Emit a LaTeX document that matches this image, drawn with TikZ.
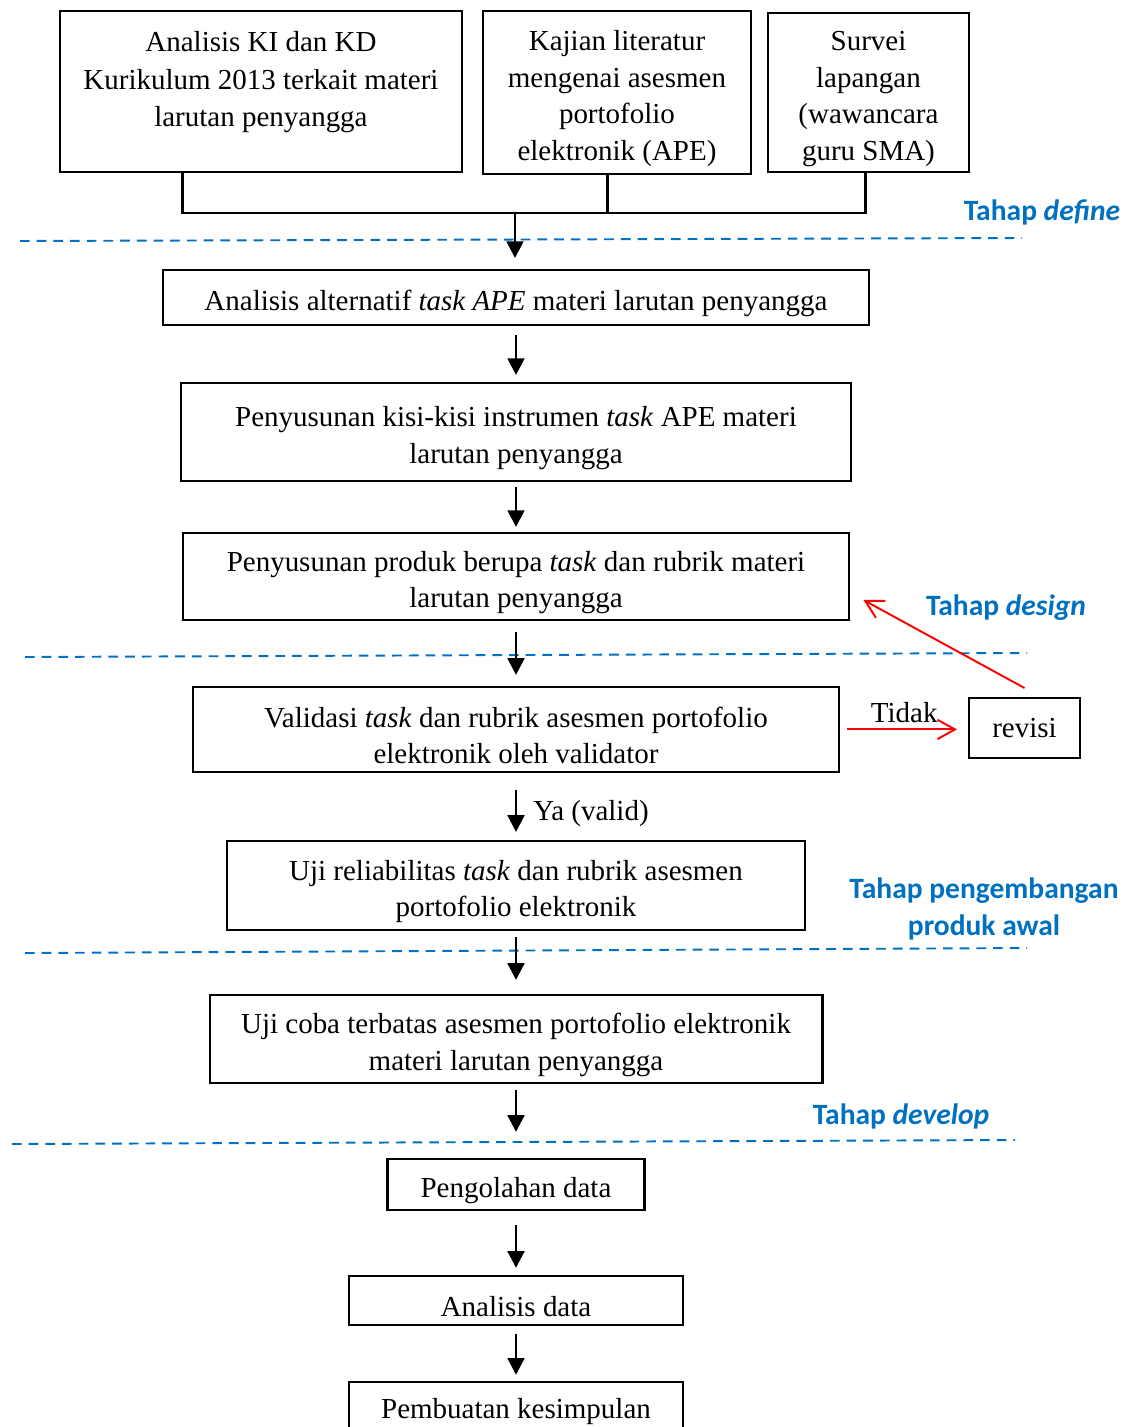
\documentclass[tikz,border=0pt]{standalone}
\usepackage{fontspec}
\setmainfont{Liberation Serif}
\newfontfamily\tahapfont{Carlito}
\usetikzlibrary{positioning,arrows.meta}
\definecolor{tahapblue}{RGB}{0,112,192}
\newcommand{\lift}{\rule{0pt}{18.5pt}}
\tikzset{
  box/.style={rectangle,draw=black,line width=1.2pt,align=center,inner sep=2pt,outer sep=0pt},
  flow/.style={-{Triangle[length=9.5pt,width=9.5pt]},line width=1.6pt},
  link/.style={line width=1.7pt},
  back/.style={-{Straight Barb[length=10pt,width=11pt]},red,line width=1.1pt},
  phase/.style={draw=tahapblue,line width=1.1pt,dash pattern=on 5.5pt off 4pt},
  tahap/.style={font=\tahapfont\bfseries\fontsize{16.8}{21.5}\selectfont,text=tahapblue,align=center},
}

\begin{document}
\begin{tikzpicture}[x=0.02cm,y=-0.02cm,font=\fontsize{16.5}{20.8}\selectfont]
  \useasboundingbox (0,0) rectangle (1130,1427);
  % phase separators
  \draw[phase] (20,241) -- (1022,238);
  \draw[phase] (25,657) -- (1027,653);
  \draw[phase] (25,953) -- (1027,948);
  \draw[phase] (12,1144) -- (1015,1140);
  % define: three sources
  \node[box,anchor=north west,minimum width=8.04cm,minimum height=3.22cm,
        font=\fontsize{16.5}{21.3}\selectfont] (a1) at (60,11)
       {\lift Analisis KI dan KD\\Kurikulum 2013 terkait materi\\larutan penyangga\\\mbox{}};
  \node[box,anchor=north west,minimum width=5.36cm,minimum height=3.26cm] (a2) at (483,11)
       {\lift Kajian literatur\\mengenai asesmen\\portofolio\\elektronik (APE)};
  \node[box,anchor=north west,minimum width=4.02cm,minimum height=3.18cm] (a3) at (768,13)
       {\lift Survei\\lapangan\\(wawancara\\guru SMA)};
  \coordinate (bus) at (515,213);
  \draw[link] ([xshift=2.46cm]a1.south west) |- (bus);
  \draw[link] ([xshift=1.96cm]a3.south west) |- (bus);
  \draw[link] ([xshift=2.5cm]a2.south west) |- (bus);
  % main chain top -> bottom
  \node[box,minimum width=14.12cm,minimum height=1.1cm] (b1) at (516,297.5)
       {\lift Analisis alternatif \textit{task APE} materi larutan penyangga};
  \node[box,minimum width=13.42cm,minimum height=1.96cm,below=1.16cm of b1] (b2)
       {\lift Penyusunan kisi-kisi instrumen \textit{task} APE materi\\larutan penyangga};
  \node[box,minimum width=13.34cm,minimum height=1.74cm,below=1.04cm of b2] (b3)
       {\lift Penyusunan produk berupa \textit{task} dan rubrik materi\\larutan penyangga};
  \node[box,minimum width=12.94cm,minimum height=1.7cm,below=1.34cm of b3] (b4)
       {\lift Validasi \textit{task} dan rubrik asesmen portofolio\\elektronik oleh validator};
  \node[box,minimum width=11.56cm,minimum height=1.78cm,below=1.38cm of b4] (b5)
       {\lift Uji reliabilitas \textit{task} dan rubrik asesmen\\portofolio elektronik};
  \node[box,minimum width=12.26cm,minimum height=1.76cm,below=1.3cm of b5] (b6)
       {\lift Uji coba terbatas asesmen portofolio elektronik\\materi larutan penyangga};
  \node[box,minimum width=5.14cm,minimum height=1.02cm,below=1.52cm of b6] (b7) {\lift Pengolahan data};
  \node[box,minimum width=6.68cm,minimum height=0.98cm,below=1.32cm of b7] (b8) {\lift Analisis data};
  \node[box,minimum width=6.68cm,minimum height=0.94cm,below=1.14cm of b8] (b9) {\lift Pembuatan kesimpulan};
  \node[box,minimum width=2.22cm,minimum height=1.2cm] (rev) at (1024.5,728) {revisi};
  % arrows
  \draw[flow,shorten >=0.24cm] (bus) -- (bus |- b1.north);
  \draw[flow,shorten <=0.2cm,shorten >=0.16cm] (b1) -- (b2);
  \draw[flow,shorten <=0.12cm,shorten >=0.12cm] (b2) -- (b3);
  \draw[flow,shorten <=0.24cm,shorten >=0.24cm] (b3) -- (b4);
  \draw[flow,shorten <=0.36cm,shorten >=0.18cm] (b4) -- (b5)
       node[pos=0.6,right=0.2cm] {Ya (valid)};
  \draw[flow,shorten <=0.14cm,shorten >=0.3cm] (b5) -- (b6);
  \draw[flow,shorten <=0.14cm,shorten >=0.54cm] (b6) -- (b7);
  \draw[flow,shorten <=0.3cm,shorten >=0.16cm] (b7) -- (b8);
  \draw[flow,shorten <=0.18cm,shorten >=0.14cm] (b8) -- (b9);
  % validation loop
  \draw[back,shorten <=0.16cm,shorten >=0.24cm] (b4.east) -- (b4.east -| rev.west)
       node[midway,above,text=black] {Tidak};
  \draw[back] ([yshift=0.2cm]rev.north) -- ([shift={(14,-20)}]b3.south east);
  % phase labels
  \node[tahap] (tdefine) at (1042,212) {Tahap \textit{define}};
  \node[tahap] (tdesign) at (1006,608) {Tahap \textit{design}};
  \node[tahap] (tpengembangan) at (984,909) {Tahap pengembangan\\produk awal};
  \node[tahap] (tdevelop) at (901,1116) {Tahap \textit{develop}};
\end{tikzpicture}
\end{document}
